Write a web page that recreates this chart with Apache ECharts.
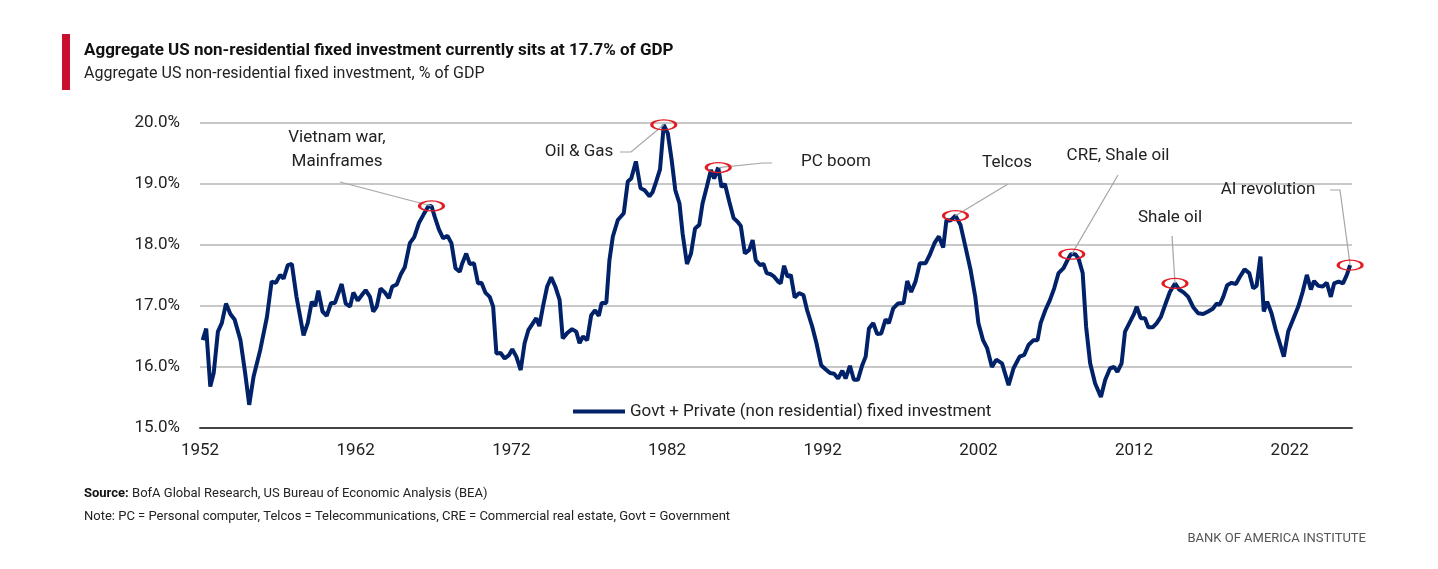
<!DOCTYPE html>
<html>
<head>
<meta charset="utf-8">
<script src="https://cdn.jsdelivr.net/npm/echarts@6/dist/echarts.min.js"></script>
<style>
  html, body { margin: 0; padding: 0; background: #fff; }
  #chart { width: 1438px; height: 569px; }
</style>
</head>
<body>
<div id="chart"></div>
<script>
// [year, % of GDP]
const investment = [
  [1952.17,16.44],[1952.4,16.63],[1952.66,15.68],[1952.88,15.90],[1953.15,16.58],[1953.4,16.72],[1953.67,17.04],
  [1953.95,16.87],[1954.22,16.78],[1954.6,16.44],[1954.9,15.90],[1955.16,15.38],[1955.44,15.84],[1955.87,16.28],
  [1956.3,16.82],[1956.6,17.40],[1956.87,17.38],[1957.15,17.51],[1957.37,17.45],[1957.64,17.67],[1957.9,17.69],
  [1958.2,17.15],[1958.65,16.52],[1958.92,16.72],[1959.18,17.07],[1959.4,17.00],[1959.6,17.25],[1959.87,16.91],
  [1960.14,16.84],[1960.42,17.05],[1960.67,17.05],[1961.1,17.36],[1961.36,17.04],[1961.64,16.99],[1961.85,17.22],
  [1962.13,17.09],[1962.4,17.18],[1962.64,17.26],[1962.92,17.15],[1963.13,16.91],[1963.35,16.99],[1963.6,17.29],
  [1963.88,17.22],[1964.13,17.13],[1964.35,17.32],[1964.63,17.35],[1964.9,17.52],[1965.16,17.64],[1965.48,18.03],
  [1965.76,18.13],[1966.06,18.36],[1966.34,18.49],[1966.66,18.63],[1966.87,18.64],[1967.08,18.46],[1967.34,18.26],
  [1967.62,18.11],[1967.9,18.15],[1968.15,18.03],[1968.41,17.62],[1968.69,17.56],[1968.83,17.69],[1969.1,17.86],
  [1969.33,17.69],[1969.6,17.70],[1969.86,17.37],[1970.08,17.38],[1970.33,17.22],[1970.61,17.15],[1970.83,16.99],
  [1971.04,16.22],[1971.31,16.23],[1971.57,16.14],[1971.83,16.19],[1972.06,16.29],[1972.32,16.17],[1972.6,15.95],
  [1972.85,16.39],[1973.1,16.61],[1973.39,16.72],[1973.6,16.80],[1973.8,16.67],[1974.03,16.99],[1974.3,17.32],
  [1974.56,17.47],[1974.82,17.32],[1975.1,17.10],[1975.3,16.47],[1975.6,16.56],[1975.9,16.62],[1976.17,16.58],
  [1976.38,16.39],[1976.6,16.50],[1976.87,16.44],[1977.13,16.85],[1977.38,16.93],[1977.62,16.84],[1977.8,17.05],
  [1978.1,17.05],[1978.3,17.75],[1978.52,18.14],[1978.84,18.41],[1979.22,18.52],[1979.48,19.04],[1979.7,19.09],
  [1980.0,19.37],[1980.3,18.93],[1980.55,18.90],[1980.87,18.80],[1981.08,18.87],[1981.3,19.04],[1981.55,19.24],
  [1981.79,19.97],[1982.05,19.83],[1982.3,19.39],[1982.53,18.90],[1982.8,18.68],[1983.0,18.19],[1983.28,17.69],
  [1983.54,17.86],[1983.8,18.27],[1984.07,18.33],[1984.28,18.68],[1984.56,18.96],[1984.82,19.23],[1985.03,19.09],
  [1985.29,19.27],[1985.5,18.95],[1985.72,19.00],[1986.0,18.71],[1986.28,18.44],[1986.53,18.38],[1986.74,18.31],
  [1987.0,17.86],[1987.28,17.92],[1987.5,18.08],[1987.7,17.75],[1987.98,17.67],[1988.2,17.69],[1988.4,17.54],
  [1988.67,17.52],[1988.88,17.48],[1989.14,17.40],[1989.3,17.37],[1989.52,17.66],[1989.74,17.48],[1989.95,17.51],
  [1990.2,17.14],[1990.48,17.21],[1990.76,17.18],[1991.0,16.93],[1991.33,16.66],[1991.6,16.39],[1991.9,16.03],
  [1992.2,15.96],[1992.47,15.90],[1992.73,15.89],[1992.99,15.81],[1993.26,15.94],[1993.47,15.81],[1993.75,16.02],
  [1994.0,15.79],[1994.26,15.79],[1994.54,16.03],[1994.76,16.17],[1994.97,16.63],[1995.25,16.72],[1995.5,16.54],
  [1995.76,16.55],[1996.04,16.78],[1996.25,16.72],[1996.53,16.96],[1996.83,17.04],[1997.2,17.05],[1997.43,17.41],
  [1997.68,17.23],[1997.96,17.40],[1998.24,17.70],[1998.6,17.70],[1998.88,17.84],[1999.18,18.03],[1999.46,18.14],
  [1999.74,17.96],[1999.95,18.41],[2000.2,18.40],[2000.53,18.48],[2000.85,18.33],[2001.17,17.97],[2001.5,17.59],
  [2001.8,17.15],[2002.0,16.72],[2002.3,16.44],[2002.56,16.31],[2002.87,16.00],[2003.15,16.12],[2003.52,16.06],
  [2003.94,15.70],[2004.26,15.98],[2004.65,16.17],[2004.95,16.20],[2005.22,16.36],[2005.54,16.44],[2005.8,16.44],
  [2006.0,16.72],[2006.3,16.93],[2006.6,17.10],[2006.87,17.29],[2007.15,17.54],[2007.47,17.62],[2007.72,17.75],
  [2007.94,17.85],[2008.22,17.85],[2008.43,17.78],[2008.7,17.54],[2008.92,16.66],[2009.18,16.06],[2009.5,15.73],
  [2009.87,15.51],[2010.15,15.79],[2010.46,15.98],[2010.72,16.00],[2010.93,15.92],[2011.2,16.06],[2011.42,16.58],
  [2011.74,16.74],[2012.0,16.87],[2012.17,16.99],[2012.43,16.80],[2012.7,16.80],[2012.92,16.65],[2013.2,16.65],
  [2013.46,16.72],[2013.72,16.82],[2014.0,17.02],[2014.3,17.23],[2014.63,17.37],[2014.9,17.27],[2015.2,17.22],
  [2015.48,17.15],[2015.8,16.98],[2016.12,16.88],[2016.44,16.87],[2016.76,16.91],[2017.08,16.96],[2017.3,17.04],
  [2017.5,17.02],[2017.73,17.15],[2017.98,17.34],[2018.26,17.38],[2018.54,17.36],[2018.8,17.48],[2019.1,17.60],
  [2019.4,17.54],[2019.65,17.29],[2019.87,17.33],[2020.12,17.81],[2020.33,16.91],[2020.55,17.07],[2020.83,16.88],
  [2021.1,16.61],[2021.36,16.39],[2021.62,16.17],[2021.9,16.58],[2022.2,16.77],[2022.55,16.99],[2022.83,17.23],
  [2023.1,17.51],[2023.36,17.27],[2023.56,17.41],[2023.84,17.33],[2024.12,17.32],[2024.38,17.38],[2024.64,17.15],
  [2024.85,17.37],[2025.14,17.40],[2025.42,17.37],[2025.67,17.51],[2025.88,17.67]
];

// peaks that get a red ring, with label text and leader line (label anchor in pixels)
const callouts = [
  { at: [1966.87, 18.64], text: 'Vietnam war,\nMainframes', tx: 337, ty: 150, path: [[340, 182]] },
  { at: [1981.79, 19.97], text: 'Oil & Gas', tx: 579, ty: 152, path: [[620, 152], [631, 152]] },
  { at: [1985.29, 19.27], text: 'PC boom', tx: 836, ty: 162, path: [[772, 163], [763, 163]] },
  { at: [2000.53, 18.48], text: 'Telcos', tx: 1007, ty: 163, path: [[1008, 184]] },
  { at: [2008.0, 17.85], text: 'CRE, Shale oil', tx: 1118, ty: 156, path: [[1118, 175]] },
  { at: [2014.63, 17.37], text: 'Shale oil', tx: 1170, ty: 218, path: [[1172, 236]] },
  { at: [2025.88, 17.67], text: 'AI revolution', tx: 1268, ty: 190, path: [[1330, 190], [1340, 190]] }
];

const font = 'Roboto, "Open Sans", sans-serif';
const chart = echarts.init(document.getElementById('chart'));

const option = {
  animation: false,
  textStyle: { fontFamily: font },
  grid: { left: 200, right: 86, top: 123, bottom: 141 },
  legend: {
    data: ['Govt + Private (non residential) fixed investment'],
    left: 568, top: 398,
    itemWidth: 52, itemHeight: 4, itemGap: 6,
    icon: 'rect',
    textStyle: { fontSize: 17, color: '#222', fontFamily: font }
  },
  xAxis: {
    type: 'value',
    min: 1952, max: 2026, interval: 10,
    axisLine: { lineStyle: { color: '#444', width: 2 } },
    axisTick: { show: false },
    splitLine: { show: false },
    axisLabel: { fontSize: 17, color: '#222', margin: 14, showMaxLabel: false, formatter: v => String(v) }
  },
  yAxis: {
    type: 'value',
    min: 15, max: 20, interval: 1,
    axisLine: { show: false },
    axisTick: { show: false },
    splitLine: { lineStyle: { color: '#c8c8c8', width: 2 } },
    axisLabel: { fontSize: 17, color: '#222', margin: 20, formatter: v => v.toFixed(1) + '%' }
  },
  series: [{
    name: 'Govt + Private (non residential) fixed investment',
    type: 'line',
    data: investment,
    showSymbol: false,
    color: '#012169',
    lineStyle: { width: 4, color: '#012169' },
    markPoint: {
      symbol: 'circle',
      symbolSize: [24, 10],
      itemStyle: { color: 'rgba(0,0,0,0)', borderColor: '#e31b23', borderWidth: 2 },
      label: { show: false },
      data: callouts.map(c => ({ coord: c.at }))
    }
  }],
  graphic: [
    { type: 'rect', shape: { x: 62, y: 34, width: 8, height: 56 }, style: { fill: '#c8102e' } },
    { type: 'text', left: 84, top: 42, style: { text: 'Aggregate US non-residential fixed investment currently sits at 17.7% of GDP', font: 'bold 17px ' + font, fill: '#111' } },
    { type: 'text', left: 84, top: 66, style: { text: 'Aggregate US non-residential fixed investment, % of GDP', font: '16px ' + font, fill: '#222' } },
    { type: 'text', left: 84, top: 487, style: { rich: { b: { fontWeight: 'bold', fontSize: 13, fontFamily: font, fill: '#111' }, n: { fontSize: 13, fontFamily: font, fill: '#222' } }, text: '{b|Source:} {n|BofA Global Research, US Bureau of Economic Analysis (BEA)}' } },
    { type: 'text', left: 84, top: 510, style: { text: 'Note: PC = Personal computer, Telcos = Telecommunications, CRE = Commercial real estate, Govt = Government', font: '13px ' + font, fill: '#222' } },
    { type: 'text', right: 72, top: 532, style: { text: 'BANK OF AMERICA INSTITUTE', font: '13px ' + font, fill: '#555' } }
  ]
};

chart.setOption(option);

// labels and leader lines, pinned to the peaks through the axes
const extra = [];
callouts.forEach(c => {
  const p = chart.convertToPixel({ gridIndex: 0 }, c.at);
  const pts = c.path.concat([p]);
  extra.push({ type: 'polyline', shape: { points: pts }, style: { stroke: '#a6a6a6', lineWidth: 1.2, fill: null }, z: 5 });
  extra.push({ type: 'text', x: c.tx, y: c.ty, style: { text: c.text, font: '17px ' + font, fill: '#222', align: 'center', verticalAlign: 'middle', lineHeight: 24 }, z: 6 });
});
chart.setOption({ graphic: option.graphic.concat(extra) });
</script>
</body>
</html>
